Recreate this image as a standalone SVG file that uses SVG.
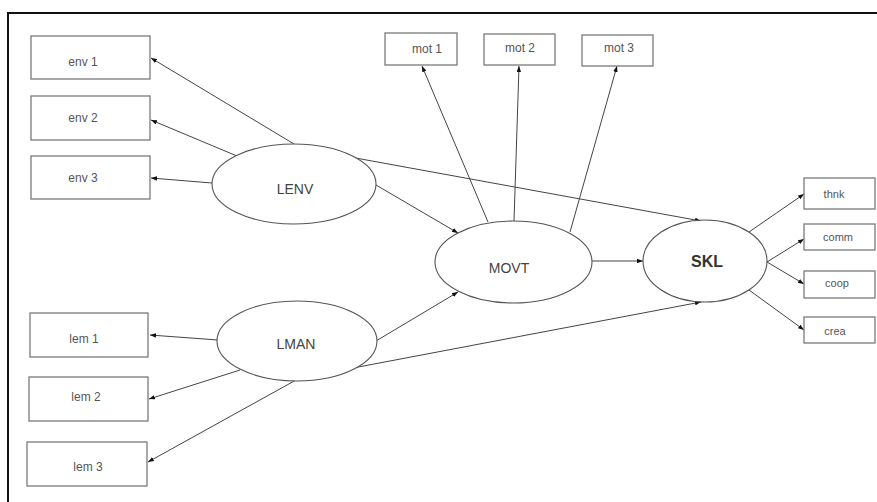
<svg xmlns="http://www.w3.org/2000/svg" width="877" height="502" viewBox="0 0 877 502">
<defs>
<marker id="ah" viewBox="0 0 8 6" refX="8" refY="3" markerWidth="6" markerHeight="4.5" markerUnits="userSpaceOnUse" orient="auto">
<path d="M0,0 L8,3 L0,6 z" fill="#111"/>
</marker>
</defs>
<style>
.box{fill:#fff;stroke:#7a7a7a;stroke-width:1.3}
.ell{fill:#fff;stroke:#555;stroke-width:1.1}
.lbl{font-family:"Liberation Sans",Arial,sans-serif;font-size:12px;fill:#555;text-anchor:middle}
.sm{font-size:11px}
.lat{font-family:"Liberation Sans",Arial,sans-serif;font-size:14px;fill:#444;text-anchor:middle}
.skl{font-family:"Liberation Sans",Arial,sans-serif;font-size:16px;font-weight:bold;fill:#333;text-anchor:middle}
.con line{stroke:#444;stroke-width:1;marker-end:url(#ah)}
</style>
<rect width="877" height="502" fill="#fff"/>
<path d="M8,502 L8,13 L877,13" fill="none" stroke="#111" stroke-width="2"/>
<g id="connectors" class="con">
<line x1="294" y1="144" x2="151" y2="58"/>
<line x1="237" y1="156" x2="151" y2="120"/>
<line x1="212" y1="183" x2="151" y2="178"/>
<line x1="376" y1="185" x2="458" y2="233"/>
<line x1="350" y1="157" x2="701" y2="221"/>
<line x1="218" y1="340" x2="150" y2="335"/>
<line x1="240" y1="370" x2="149" y2="399"/>
<line x1="296" y1="380" x2="148" y2="462"/>
<line x1="376" y1="341" x2="458" y2="292"/>
<line x1="353" y1="368" x2="701" y2="302"/>
<line x1="488" y1="222" x2="422" y2="66"/>
<line x1="514" y1="221" x2="519" y2="66"/>
<line x1="570" y1="232" x2="617" y2="66"/>
<line x1="592" y1="261" x2="643" y2="261"/>
<line x1="749" y1="232" x2="804" y2="194"/>
<line x1="767" y1="262" x2="804" y2="239"/>
<line x1="767" y1="262" x2="804" y2="284"/>
<line x1="749" y1="290" x2="804" y2="330"/>
</g>
<g id="env1"><rect class="box" x="31" y="36" width="119" height="43"/><text class="lbl" x="83" y="66">env 1</text></g>
<g id="env2"><rect class="box" x="31" y="96" width="119" height="44"/><text class="lbl" x="83" y="122">env 2</text></g>
<g id="env3"><rect class="box" x="31" y="156" width="119" height="43"/><text class="lbl" x="83" y="182">env 3</text></g>
<g id="lem1"><rect class="box" x="30" y="313" width="118" height="44"/><text class="lbl" x="84" y="343">lem 1</text></g>
<g id="lem2"><rect class="box" x="29" y="377" width="119" height="44"/><text class="lbl" x="86" y="401">lem 2</text></g>
<g id="lem3"><rect class="box" x="27" y="442" width="120" height="44"/><text class="lbl" x="88" y="471">lem 3</text></g>
<g id="mot1"><rect class="box" x="385" y="33" width="72" height="32"/><text class="lbl" x="427" y="53">mot 1</text></g>
<g id="mot2"><rect class="box" x="484" y="34" width="71" height="31"/><text class="lbl" x="520" y="52">mot 2</text></g>
<g id="mot3"><rect class="box" x="582" y="35" width="71" height="31"/><text class="lbl" x="619" y="52">mot 3</text></g>
<g id="thnk"><rect class="box" x="804" y="178" width="71" height="31"/><text class="lbl sm" x="834" y="198">thnk</text></g>
<g id="comm"><rect class="box" x="804" y="224" width="71" height="26"/><text class="lbl sm" x="838" y="241">comm</text></g>
<g id="coop"><rect class="box" x="804" y="271" width="71" height="27"/><text class="lbl sm" x="837" y="287">coop</text></g>
<g id="crea"><rect class="box" x="804" y="317" width="71" height="26"/><text class="lbl sm" x="835" y="335">crea</text></g>
<g id="LENV"><ellipse class="ell" cx="294" cy="184" rx="82" ry="40"/><text class="lat" x="295" y="194">LENV</text></g>
<g id="LMAN"><ellipse class="ell" cx="297" cy="341" rx="80" ry="40"/><text class="lat" x="296" y="349">LMAN</text></g>
<g id="MOVT"><ellipse class="ell" cx="513.5" cy="262" rx="78.5" ry="41"/><text class="lat" x="509" y="273">MOVT</text></g>
<g id="SKL"><ellipse class="ell" cx="705" cy="261" rx="62" ry="41"/><text class="skl" x="707" y="267">SKL</text></g>
</svg>
